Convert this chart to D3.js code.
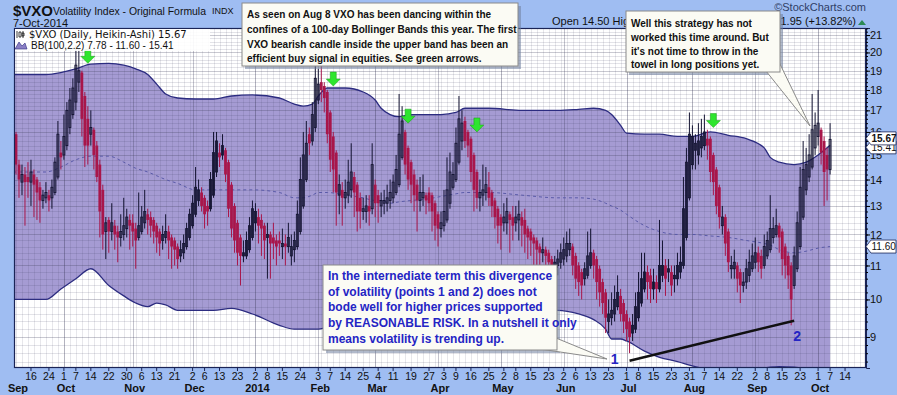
<!DOCTYPE html>
<html>
<head>
<meta charset="utf-8">
<script src="https://cdn.jsdelivr.net/npm/d3@7"></script>
<style>
  body { margin: 0; background: #9fbdf2; }
</style>
</head>
<body>
<div id="chart"></div>
<script>
// ---- data ----
var holidays = ["2013-11-28", "2013-12-25", "2014-01-01", "2014-01-20", "2014-02-17",
  "2014-04-18", "2014-05-26", "2014-07-04", "2014-09-01"];

// Heikin-Ashi candles, one per trading day from 9-Sep-2013 to 7-Oct-2014
var haOpen = [15.9,14.6,13.9,14.2,14.1,13.9,14.2,14.0,13.7,13.2,13.3,13.4,13.3,13.5,14.1,15.1,15.0,15.4,16.2,16.8,
  17.4,18.4,18.9,17.7,16.6,15.9,16.1,15.4,14.6,13.6,12.1,12.5,12.1,12.3,12.1,11.9,12.0,12.2,12.5,12.4,
  12.2,11.9,12.1,12.4,12.7,12.6,12.5,12.3,12.1,11.8,11.9,12.1,11.9,11.8,11.6,11.3,11.4,11.6,11.9,12.3,
  12.7,13.2,13.5,13.3,13.0,12.9,13.4,14.3,15.1,15.0,15.2,14.7,13.8,13.0,12.4,11.9,11.3,11.3,11.5,11.9,
  12.4,12.6,12.5,12.3,11.9,12.0,11.9,11.8,11.8,11.6,11.7,11.6,11.3,11.5,11.6,12.1,13.0,14.0,15.9,15.6,
  16.2,17.5,18.4,18.2,17.9,16.9,15.8,15.1,13.4,13.6,13.3,13.4,13.6,14.1,13.8,13.3,12.8,12.8,13.0,12.9,
  13.8,13.4,13.0,13.1,13.1,13.2,13.3,13.5,13.8,14.9,16.0,15.3,14.7,14.2,13.8,13.2,13.3,13.4,13.5,13.4,
  13.1,12.7,12.2,12.3,12.5,13.1,13.7,14.0,14.7,15.6,16.5,16.0,15.7,15.0,14.3,13.3,13.4,13.5,13.7,13.5,
  13.2,12.9,12.6,12.4,12.4,12.7,12.6,12.4,12.5,12.6,12.5,12.2,12.1,11.9,11.8,11.6,11.4,11.5,11.4,11.2,
  11.0,11.0,11.1,11.2,11.3,11.5,11.6,11.3,11.0,10.8,10.6,10.7,11.0,11.4,11.2,10.9,10.5,10.2,9.4,9.5,
  9.6,9.8,10.1,9.9,9.6,9.4,9.1,9.2,9.5,9.9,10.3,10.8,10.7,10.3,10.5,10.3,10.7,11.0,10.8,10.8,
  10.6,10.6,10.8,11.0,11.9,13.3,14.6,15.2,15.0,15.3,15.4,15.7,15.7,15.0,14.4,13.7,12.3,12.6,12.1,10.9,
  10.9,11.0,10.8,10.4,10.5,10.7,10.9,11.1,11.4,11.3,11.0,11.3,11.5,11.9,12.0,12.3,12.1,11.6,11.3,11.0,
  10.4,10.9,11.6,12.6,13.6,14.1,14.5,15.3,15.8,16.1,15.6,15.0,14.4];
var haClose = [14.6,14.0,14.2,13.9,13.9,14.3,13.8,13.5,13.2,13.4,13.5,13.2,13.7,14.7,15.9,14.9,15.8,17.0,17.5,18.1,
  19.3,19.0,16.6,15.4,15.4,16.2,15.0,14.1,12.8,12.0,12.4,12.1,12.4,12.0,11.9,12.1,12.3,12.6,12.3,12.1,
  11.8,12.3,12.6,12.8,12.5,12.3,12.1,11.9,11.7,12.0,12.1,11.8,11.6,11.5,11.2,11.5,11.7,12.2,12.7,13.1,
  13.7,13.6,13.0,12.7,12.8,14.0,15.1,15.6,14.9,15.4,14.2,12.9,12.2,11.8,11.4,11.3,11.4,11.8,12.3,12.9,
  12.8,12.3,12.2,11.8,12.0,11.7,11.7,11.6,11.7,11.7,11.6,11.9,11.6,11.8,12.7,14.0,15.0,15.5,15.5,16.8,
  18.6,18.3,18.0,17.6,15.9,14.8,14.4,13.5,13.8,13.3,13.5,13.9,14.3,13.5,12.8,12.8,12.9,13.0,12.8,14.6,
  13.1,13.1,13.2,13.2,13.3,13.5,13.9,14.4,15.9,16.5,14.6,14.0,13.8,13.4,13.2,13.5,13.5,13.2,13.1,12.8,
  12.3,12.2,12.4,12.8,13.6,14.3,14.2,15.5,16.6,16.4,15.6,15.4,14.3,13.6,13.3,13.5,13.6,13.8,13.3,13.0,
  12.6,12.3,12.3,12.6,12.8,12.5,12.3,12.6,12.7,12.3,12.0,11.9,11.8,11.7,11.5,11.4,11.5,11.3,11.1,11.0,
  11.1,11.2,11.4,11.5,11.7,11.7,11.0,10.6,10.5,10.4,10.9,11.3,11.4,11.0,10.5,10.2,9.9,9.5,9.6,9.7,
  10.0,10.2,9.6,9.4,9.2,9.0,9.3,9.8,10.2,10.6,10.8,10.5,10.3,10.5,10.3,11.0,11.0,10.6,10.9,10.4,
  10.7,11.0,11.1,12.9,14.7,15.9,15.8,15.5,15.6,15.8,16.0,15.4,14.3,13.9,13.0,12.6,12.6,11.7,11.1,11.0,
  11.1,10.6,10.4,10.5,10.9,11.1,11.3,11.4,11.1,10.9,11.6,11.8,12.2,12.2,12.3,11.9,11.2,11.0,10.7,10.0,
  11.3,12.4,13.7,14.4,14.6,15.0,16.1,16.3,16.4,15.1,14.3,14.4,15.67];
var haHigh = [16.0,14.8,14.6,14.5,14.7,14.8,14.4,14.1,13.9,13.6,13.9,13.6,14.0,14.9,16.5,15.6,16.8,17.4,18.1,18.6,
  20.4,20.2,19.0,17.9,17.2,17.0,16.2,15.6,14.8,13.8,12.6,12.6,13.1,12.5,12.3,12.7,13.3,12.9,12.7,12.7,
  12.4,13.5,13.0,13.6,12.9,12.8,12.6,12.4,12.2,12.3,12.7,12.3,12.0,11.9,11.7,11.8,12.0,12.4,12.9,13.4,
  14.5,14.0,13.7,13.4,13.2,14.3,16.0,16.0,15.5,15.9,15.3,14.8,13.9,13.1,12.5,12.0,11.8,12.1,12.6,13.2,
  13.1,12.9,12.7,12.4,12.4,12.1,12.4,12.0,12.1,12.2,12.0,12.4,12.0,12.1,13.2,14.9,16.0,16.5,16.2,17.4,
  19.8,19.1,19.5,18.4,18.0,17.0,16.0,15.2,14.2,13.9,14.0,14.8,15.5,14.3,13.9,13.5,13.3,13.4,13.4,15.5,
  14.0,13.6,13.5,13.6,13.8,14.0,14.2,15.0,17.8,17.2,16.1,15.4,14.8,14.4,14.0,14.1,14.2,13.5,13.7,13.5,
  13.2,12.8,12.8,13.6,14.9,15.1,14.7,16.2,17.7,17.0,16.7,16.1,15.8,15.1,14.4,14.0,14.6,14.5,14.3,13.6,
  13.3,13.0,12.7,13.1,13.3,12.8,13.0,13.0,13.2,12.8,12.9,12.3,12.2,12.0,11.9,11.7,11.9,11.6,11.5,11.3,
  11.3,11.5,11.7,11.9,12.1,12.2,11.7,11.4,11.1,10.9,11.1,12.1,12.2,11.5,11.3,11.0,10.6,10.3,10.0,10.2,
  10.4,10.7,10.3,10.0,9.7,9.5,9.6,10.2,10.8,11.4,11.4,11.0,10.9,10.9,10.7,12.5,11.8,11.2,11.2,11.0,
  11.0,11.4,11.6,14.1,15.3,16.9,16.3,15.9,16.4,16.6,16.8,16.1,15.8,15.1,14.5,13.8,13.0,12.7,12.2,11.3,
  11.5,11.1,10.9,10.8,11.2,11.5,11.7,11.9,11.6,11.5,12.0,12.1,13.4,12.6,12.9,12.4,12.2,11.7,11.4,11.1,
  11.6,12.8,14.5,15.6,15.3,15.9,17.8,16.9,18.0,16.2,15.8,15.3,16.4];
var haLow = [14.2,13.3,13.4,12.3,13.3,13.0,12.6,12.5,12.4,12.9,13.1,12.8,12.9,13.4,14.0,14.4,14.8,15.2,15.9,16.6,
  17.0,17.9,15.8,14.5,14.6,15.4,14.4,13.9,11.9,11.5,11.2,11.4,11.8,11.5,11.1,11.6,11.8,11.9,11.5,11.6,
  10.9,11.8,12.0,12.2,12.0,11.9,11.7,11.4,11.3,11.5,11.7,11.2,10.9,11.0,10.9,11.1,11.2,11.5,11.8,12.2,
  12.6,13.0,12.8,12.2,12.3,12.8,13.3,14.1,14.5,14.8,13.9,12.6,11.9,11.4,11.0,10.4,11.1,11.2,11.4,11.8,
  12.1,11.7,11.3,11.2,10.6,10.6,11.2,11.0,11.3,11.2,11.0,11.4,11.0,11.1,11.5,12.0,12.9,13.9,15.0,15.4,
  16.0,17.3,17.4,16.9,15.5,14.3,13.5,12.3,12.7,12.3,12.9,13.1,13.3,12.6,12.1,12.2,12.5,12.4,12.3,12.7,
  12.6,12.4,12.6,12.7,12.8,12.9,13.1,13.4,13.7,14.8,14.2,13.6,13.1,12.8,12.1,12.8,13.0,12.7,12.8,12.1,
  11.8,11.6,11.9,12.1,12.4,12.9,13.6,13.9,14.6,15.2,15.3,14.9,13.9,12.8,12.9,12.8,13.0,13.2,13.0,12.6,
  12.2,11.7,11.5,12.1,12.0,11.4,11.8,12.1,11.8,11.6,11.4,11.2,11.3,11.0,10.8,10.9,11.1,10.9,10.5,10.3,
  10.8,10.7,10.9,11.0,11.1,11.3,10.7,10.3,10.1,10.0,10.4,10.6,10.9,10.6,10.0,9.8,9.6,9.1,9.1,9.3,
  9.4,9.7,9.4,9.1,8.9,8.6,8.9,9.1,9.4,9.8,10.2,10.0,9.9,10.0,9.9,10.2,10.5,10.1,10.5,10.1,
  10.2,10.4,10.6,10.9,11.8,13.2,14.4,14.4,14.6,14.9,15.2,14.8,13.9,13.4,12.7,12.2,12.0,11.3,10.8,10.6,
  10.6,10.2,9.9,10.2,10.3,10.5,10.8,10.9,10.8,10.6,10.9,11.2,11.4,11.7,11.9,11.4,10.7,10.6,10.3,9.3,
  10.3,10.8,11.5,12.5,13.4,13.9,14.4,15.0,15.4,14.6,13.0,13.2,14.2];

// Bollinger Bands (100, 2.2) sampled along the curve
var bbIdx =   [-1, 10, 15, 20, 25, 31, 36, 40, 44, 47, 50, 54, 60, 66, 72, 79, 88, 93, 96, 99, 101, 104, 110, 116, 120,
  122, 125, 128, 132, 137, 142, 147, 150, 158, 169, 181, 188, 193, 197, 199, 202, 204, 210, 215, 221, 226, 232, 238, 244,
  250, 252, 255, 260, 264, 268, 272];
var bbUpper = [18.8, 18.8, 18.9, 19.1, 19.35, 19.4, 19.3, 19.1, 18.8, 18.3, 17.8, 17.6, 17.55, 17.55, 17.7, 17.75, 17.6, 17.3, 17.2, 17.3, 17.7, 18.1, 18.1, 17.9, 17.5,
  17.1, 16.8, 16.7, 16.8, 16.8, 16.8, 16.9, 17.1, 17.1, 17.0, 17.0, 17.05, 17.1, 17.0, 16.8, 16.3, 15.95, 15.9, 15.9, 15.8, 15.8, 16.0, 15.85, 15.7,
  15.3, 14.9, 14.7, 14.6, 14.7, 15.0, 15.41];
var bbMid =   [14.3, 14.3, 14.5, 14.8, 14.95, 14.95, 14.7, 14.45, 14.3, 14.15, 14.0, 13.85, 13.6, 13.6, 13.6, 13.6, 13.5, 13.3, 13.3, 13.4, 13.5, 13.5, 13.4, 13.3, 13.2,
  13.2, 13.1, 13.15, 13.2, 13.25, 13.35, 13.45, 13.5, 13.5, 13.4, 13.3, 13.3, 13.25, 13.1, 13.0, 12.85, 12.7, 12.3, 12.1, 12.0, 12.0, 11.95, 11.9, 11.8,
  11.7, 11.65, 11.5, 11.4, 11.45, 11.55, 11.60];
var bbLower = [10.0, 10.0, 10.3, 10.6, 10.9, 10.4, 10.1, 9.9, 9.8, 9.9, 9.85, 9.7, 9.7, 9.7, 9.75, 9.6, 9.3, 9.2, 9.2, 9.2, 9.2, 9.25, 9.3, 9.35, 9.4,
  9.4, 9.45, 9.5, 9.5, 9.5, 9.55, 9.55, 9.6, 9.6, 9.6, 9.7, 9.6, 9.45, 9.2, 8.95, 8.95, 8.9, 8.65, 8.5, 8.4, 8.3, 8.2, 8.15, 8.2,
  8.25, 8.27, 8.28, 8.27, 8.2, 8.0, 7.78];

// green arrows (trading day, value at the arrow tip)
var arrowDays = ["2013-10-11", "2014-02-10", "2014-03-18", "2014-04-21", "2014-08-12"];
var arrowVals = [19.4, 18.2, 16.4, 16.0, 16.2];

// divergence line between the two lows, and its labels
var trendDays = ["2014-07-02", "2014-09-19"];
var trendVals = [8.42, 9.42];
var pointLabels = ["1", "2"];
var pointDays = ["2014-06-25", "2014-09-22"];
var pointVals = [8.35, 8.9];

// axis ticks
var yTicks = [9, 10, 11, 12, 13, 14, 15, 16, 17, 18, 19, 20, 21];
var dayTicks = ["2013-09-16", "2013-09-24", "2013-10-01", "2013-10-07", "2013-10-14", "2013-10-22", "2013-10-30",
  "2013-11-06", "2013-11-13", "2013-11-21", "2013-12-02", "2013-12-06", "2013-12-13", "2013-12-23",
  "2014-01-02", "2014-01-08", "2014-01-15", "2014-01-24", "2014-02-03", "2014-02-07", "2014-02-14", "2014-02-25",
  "2014-03-04", "2014-03-11", "2014-03-19", "2014-03-27", "2014-04-03", "2014-04-09", "2014-04-16", "2014-04-25",
  "2014-05-02", "2014-05-08", "2014-05-15", "2014-05-23", "2014-06-02", "2014-06-06", "2014-06-13", "2014-06-23",
  "2014-07-01", "2014-07-08", "2014-07-15", "2014-07-23", "2014-07-31", "2014-08-07", "2014-08-14", "2014-08-22",
  "2014-09-02", "2014-09-08", "2014-09-15", "2014-09-23", "2014-10-01", "2014-10-07", "2014-10-14"];
var monthTicks = ["2013-09-09", "2013-10-01", "2013-11-01", "2013-12-02", "2014-01-02", "2014-02-03", "2014-03-03",
  "2014-04-01", "2014-05-01", "2014-06-02", "2014-07-01", "2014-08-01", "2014-09-02", "2014-10-01"];
var monthNames = ["Sep", "Oct", "Nov", "Dec", "2014", "Feb", "Mar", "Apr", "May", "Jun", "Jul", "Aug", "Sep", "Oct"];

// ---- trading calendar ----
var fmt = d3.utcFormat("%Y-%m-%d");
var tradingDays = d3.utcDays(new Date(Date.UTC(2013, 8, 9)), new Date(Date.UTC(2014, 10, 15)))
  .filter(function(d) { var w = d.getUTCDay(); return w > 0 && w < 6 && holidays.indexOf(fmt(d)) < 0; })
  .map(fmt);
function dayIdx(s) { return tradingDays.indexOf(s); }

// ---- chart ----
var W = 897, H = 395;
var L = 14, R = 866, T = 28, B = 368;
var font = "Arial, 'Liberation Sans', sans-serif";

var svg = d3.select("#chart").append("svg")
  .attr("width", W).attr("height", H)
  .style("font-family", font);

svg.append("rect").attr("width", W).attr("height", H).attr("fill", "#9fbdf2");

var x = d3.scaleLinear().domain([-0.67, 284]).range([L, R]);
var y = d3.scaleLog().domain([8.25, 21.42]).range([B, T]);

svg.append("clipPath").attr("id", "plotClip")
  .append("rect").attr("x", L).attr("y", T).attr("width", R - L).attr("height", B - T);

var plot = svg.append("g").attr("clip-path", "url(#plotClip)");
plot.append("rect").attr("x", L).attr("y", T).attr("width", R - L).attr("height", B - T).attr("fill", "#fff");

// band fill
var band = bbIdx.map(function(d, k) { return { i: d, u: bbUpper[k], m: bbMid[k], l: bbLower[k] }; });
plot.append("path").datum(band)
  .attr("fill", "#a59bd3")
  .attr("d", d3.area().curve(d3.curveMonotoneX)
    .x(function(d) { return x(d.i); })
    .y0(function(d) { return y(d.l); })
    .y1(function(d) { return y(d.u); }));

// fine grid
var minorVals = d3.range(42, 108).map(function(k) { return k / 5; });
var grid = plot.append("g");
grid.selectAll(".hg").data(minorVals)
  .enter().append("line")
  .attr("x1", L).attr("x2", R)
  .attr("y1", function(d) { return Math.round(y(d)) + 0.5; })
  .attr("y2", function(d) { return Math.round(y(d)) + 0.5; })
  .attr("stroke", function(d) { return Math.abs(d - Math.round(d)) < 1e-6 ? "rgba(60,60,90,0.28)" : "rgba(60,60,90,0.14)"; });
grid.selectAll(".vg").data(d3.range(0, 285, 2))
  .enter().append("line")
  .attr("y1", T).attr("y2", B)
  .attr("x1", function(d) { return Math.round(x(d)) + 0.5; })
  .attr("x2", function(d) { return Math.round(x(d)) + 0.5; })
  .attr("stroke", "rgba(60,60,90,0.12)");
grid.selectAll(".mg").data(monthTicks.slice(1))
  .enter().append("line")
  .attr("y1", T).attr("y2", B)
  .attr("x1", function(d) { return Math.round(x(dayIdx(d))) + 0.5; })
  .attr("x2", function(d) { return Math.round(x(dayIdx(d))) + 0.5; })
  .attr("stroke", "rgba(60,60,90,0.3)");

// band lines
function bandLine(key) {
  return d3.line().curve(d3.curveMonotoneX)
    .x(function(d) { return x(d.i); })
    .y(function(d) { return y(d[key]); });
}
plot.append("path").datum(band)
  .attr("fill", "none").attr("stroke", "#2c2c80").attr("stroke-width", 1.3).attr("d", bandLine("u"));
plot.append("path").datum(band)
  .attr("fill", "none").attr("stroke", "#2c2c80").attr("stroke-width", 1.3).attr("d", bandLine("l"));
plot.append("path").datum(band)
  .attr("fill", "none").attr("stroke", "#5a5aa8").attr("stroke-width", 1).attr("stroke-dasharray", "3,3")
  .attr("d", bandLine("m"));

// candles
var candles = haClose.map(function(c, i) {
  return { i: i, o: haOpen[i], c: c, h: haHigh[i], l: haLow[i], up: c >= haOpen[i] };
});
var cg = plot.append("g").selectAll("g").data(candles).enter().append("g");
cg.append("line")
  .attr("x1", function(d) { return x(d.i); }).attr("x2", function(d) { return x(d.i); })
  .attr("y1", function(d) { return y(d.h); }).attr("y2", function(d) { return y(d.l); })
  .attr("stroke", function(d) { return d.up ? "#141432" : "#a8164a"; })
  .attr("stroke-width", 1);
cg.append("rect")
  .attr("x", function(d) { return x(d.i) - (d.up ? 1 : 1.4); })
  .attr("width", function(d) { return d.up ? 2 : 2.8; })
  .attr("y", function(d) { return y(Math.max(d.o, d.c)); })
  .attr("height", function(d) { return Math.max(1, Math.abs(y(d.o) - y(d.c))); })
  .attr("fill", function(d) { return d.up ? "none" : "#a8164a"; })
  .attr("stroke", function(d) { return d.up ? "#141432" : "none"; })
  .attr("stroke-width", 0.9);

// trend line
plot.append("line")
  .attr("x1", x(dayIdx(trendDays[0]))).attr("y1", y(trendVals[0]))
  .attr("x2", x(dayIdx(trendDays[1]))).attr("y2", y(trendVals[1]))
  .attr("stroke", "#111").attr("stroke-width", 2.5);

// green arrows
plot.selectAll(".arrow").data(arrowDays).enter().append("path")
  .attr("transform", function(d, k) { return "translate(" + x(dayIdx(d)) + "," + y(arrowVals[k]) + ")"; })
  .attr("d", "M0,0L-7,-7L-3,-7L-3,-14L3,-14L3,-7L7,-7Z")
  .attr("fill", "#2ee52e").attr("stroke", "#1a9a1a").attr("stroke-width", 0.5);

// plot frame
svg.append("rect").attr("x", L + 0.5).attr("y", T + 0.5).attr("width", R - L - 1).attr("height", B - T - 1)
  .attr("fill", "none").attr("stroke", "#1a2456").attr("stroke-width", 1.2);

// right axis
var yAxis = svg.append("g").attr("transform", "translate(" + R + ",0)")
  .call(d3.axisRight(y).tickValues(yTicks).tickSize(4).tickFormat(d3.format("d")));
yAxis.select(".domain").attr("stroke", "#1a2456");
yAxis.selectAll("text").attr("font-size", 11).attr("font-family", font).attr("fill", "#111").attr("x", 4);
var yMinor = svg.append("g").attr("transform", "translate(" + R + ",0)")
  .call(d3.axisRight(y).tickValues(minorVals).tickSize(2).tickFormat(""));
yMinor.select(".domain").remove();

// value flags on the right axis
function flag(v, label, bold, dy) {
  var g = svg.append("g").attr("transform", "translate(" + R + "," + (y(v) + dy) + ")");
  g.append("path").attr("d", "M0,0L5,-6.5L30,-6.5L30,6.5L5,6.5Z").attr("fill", "#fff").attr("stroke", "#1a2456").attr("stroke-width", 0.8);
  g.append("text").attr("x", 5.5).attr("y", 3.8).attr("font-size", 10).attr("font-weight", bold ? "bold" : "normal")
    .attr("fill", "#111").text(label);
}
flag(bbUpper[bbUpper.length - 1], "15.41", false, 2);
flag(haClose[haClose.length - 1], "15.67", true, -1);
flag(bbMid[bbMid.length - 1], "11.60", false, 0);

// bottom axis
var xAxis = svg.append("g");
xAxis.selectAll(".dt").data(dayTicks).enter().append("text")
  .attr("x", function(d) { return x(dayIdx(d)); }).attr("y", 380)
  .attr("text-anchor", "middle").attr("font-size", 10.5).attr("fill", "#111")
  .text(function(d) { return +d.slice(8); });
xAxis.selectAll(".mt").data(monthTicks).enter().append("text")
  .attr("x", function(d) { return x(dayIdx(d)) + 2; }).attr("y", 392)
  .attr("text-anchor", "middle").attr("font-size", 11).attr("font-weight", "bold").attr("fill", "#111")
  .text(function(d, k) { return monthNames[k]; });
xAxis.selectAll(".tk").data(dayTicks).enter().append("line")
  .attr("x1", function(d) { return x(dayIdx(d)); }).attr("x2", function(d) { return x(dayIdx(d)); })
  .attr("y1", B).attr("y2", B + 3).attr("stroke", "#1a2456");

// header
svg.append("text").attr("x", 13).attr("y", 16).attr("font-size", 15).attr("font-weight", "bold").attr("fill", "#111").text("$VXO");
svg.append("text").attr("x", 53).attr("y", 15).attr("font-size", 11).attr("fill", "#111")
  .attr("textLength", 153).attr("lengthAdjust", "spacingAndGlyphs").text("Volatility Index - Original Formula");
svg.append("text").attr("x", 212).attr("y", 14).attr("font-size", 9).attr("fill", "#111").text("INDX");
svg.append("text").attr("x", 13).attr("y", 27).attr("font-size", 11).attr("fill", "#111").text("7-Oct-2014");
svg.append("text").attr("x", 866).attr("y", 11).attr("text-anchor", "end").attr("font-size", 11).attr("fill", "#2f3d66").text("\u00a9StockCharts.com");
svg.append("text").attr("x", 552).attr("y", 25).attr("font-size", 11).attr("fill", "#111")
  .text("Open 14.50  High 16.37  Low 13.72");
svg.append("text").attr("x", 856).attr("y", 25).attr("text-anchor", "end").attr("font-size", 11).attr("fill", "#111")
  .text("Close 15.67  Chg +1.95 (+13.82%)");
svg.append("path").attr("d", "M858,25L862,20L866,25Z").attr("fill", "#2b8a55");

// legend inside the plot
var leg = svg.append("g");
leg.append("rect").attr("x", L + 1).attr("y", T + 1).attr("width", 195).attr("height", 22).attr("fill", "#fff").attr("opacity", 0.9);
leg.append("path").attr("d", "M17,31v7M19,32h2v5h-2zM23,31v7M22,33h2v3h-2z").attr("stroke", "#111").attr("fill", "none").attr("stroke-width", 0.8);
leg.append("text").attr("x", 29).attr("y", 38).attr("font-size", 10).attr("font-family", "'DejaVu Sans', Verdana, sans-serif")
  .attr("fill", "#111").text("$VXO (Daily, Heikin-Ashi) 15.67");
leg.append("path").attr("d", "M15,49L19,42L22,46L25,43L27,49Z").attr("fill", "#8a7fc4").attr("stroke", "#2c2c80").attr("stroke-width", 0.6);
leg.append("text").attr("x", 31).attr("y", 49).attr("font-size", 10).attr("fill", "#111")
  .text("BB(100,2.2) 7.78 - 11.60 - 15.41");

// annotation boxes
function note(bx, by, bw, bh, lines, color, size, lineH, firstY, tip) {
  var g = svg.append("g");
  g.append("rect").attr("x", bx + 3).attr("y", by + 3).attr("width", bw).attr("height", bh).attr("fill", "#6f7f9f").attr("opacity", 0.55);
  if (tip) {
    g.append("path").attr("d", "M" + tip[0] + "," + tip[1] + "L" + tip[2] + "," + tip[3] + "L" + tip[4] + "," + tip[5] + "Z")
      .attr("fill", "#fbfbf4").attr("stroke", "#8a8a8a").attr("stroke-width", 1);
  }
  g.append("rect").attr("x", bx).attr("y", by).attr("width", bw).attr("height", bh)
    .attr("fill", "#fbfbf4").attr("stroke", "#8a8a8a").attr("stroke-width", 1);
  g.selectAll("text").data(lines).enter().append("text")
    .attr("x", bx + 5).attr("y", function(d, k) { return by + firstY + k * lineH; })
    .attr("font-size", size).attr("font-weight", "bold").attr("fill", color)
    .text(function(d) { return d; });
}
note(242, 3, 276, 63, [
  "As seen on Aug 8 VXO has been dancing within the",
  "confines of a 100-day Bollinger Bands this year. The first",
  "VXO bearish candle inside the upper band has been an",
  "efficient buy signal in equities.  See green arrows."], "#111", 10, 14.8, 15, null);
note(626, 11, 154, 61, [
  "Well this strategy has not",
  "worked this time around. But",
  "it's not time to throw in the",
  "towel in long positions yet."], "#111", 10, 13.8, 16, [766, 71, 779, 62, 810, 126]);
note(323, 265, 234, 85, [
  "In the internediate term this divergence",
  "of volatility (points 1 and 2) does not",
  "bode well for higher prices supported",
  "by REASONABLE RISK. In a nutshell it only",
  "means volatility is trending up."], "#2424c4", 12, 15.7, 15, [540, 349, 556, 338, 607, 359]);

// point labels
svg.selectAll(".pl").data(pointLabels).enter().append("text")
  .attr("x", function(d, k) { return x(dayIdx(pointDays[k])); })
  .attr("y", function(d, k) { return y(pointVals[k]); })
  .attr("text-anchor", "middle").attr("font-size", 14).attr("font-weight", "bold").attr("fill", "#2424c4")
  .text(function(d) { return d; });
</script>
</body>
</html>
